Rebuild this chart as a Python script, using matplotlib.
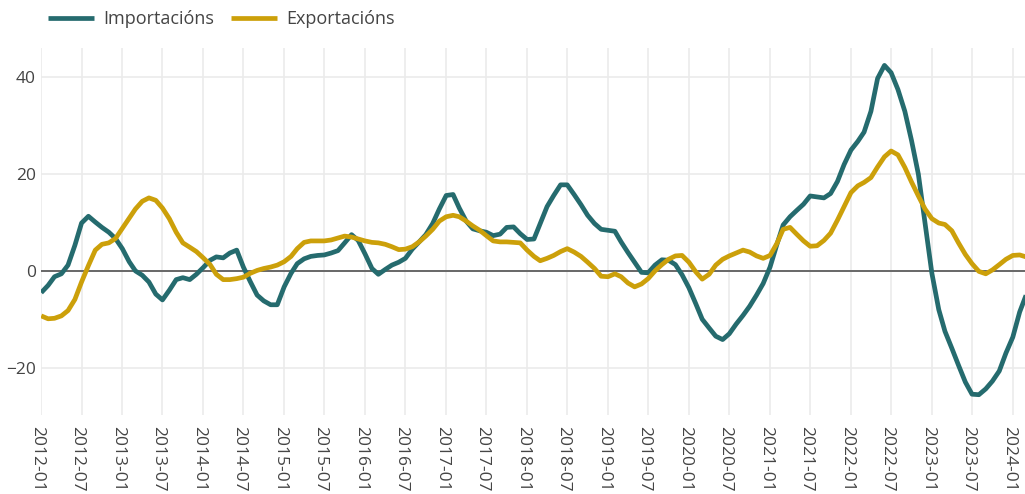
import matplotlib
matplotlib.use("Agg")
import matplotlib.pyplot as plt
import matplotlib.dates as mdates
import matplotlib.transforms as mtransforms
import pandas as pd
import numpy as np

plt.rcParams['font.family'] = ['Open Sans', 'DejaVu Sans']

# Monthly dates 2012-01 .. 2024-03
dates = pd.date_range("2012-01-01", "2024-03-01", freq="MS")

importacions = [
    -4.5, -3.0, -1.2, -0.6, 1.2, 5.3, 9.9, 11.3, 10.1, 9.0, 8.0, 6.7,
    4.6, 1.9, 0.0, -0.9, -2.3, -4.8, -6.0, -4.0, -1.8, -1.4, -1.8, -0.7,
    0.7, 2.2, 2.9, 2.7, 3.7, 4.3, 0.8, -2.2, -5.0, -6.2, -7.0, -7.0,
    -3.3, -0.5, 1.5, 2.5, 3.0, 3.2, 3.3, 3.7, 4.2, 5.8, 7.5, 6.3,
    3.5, 0.5, -0.7, 0.3, 1.2, 1.8, 2.6, 4.5, 6.0, 7.5, 9.8, 12.8,
    15.6, 15.8, 13.0, 10.3, 8.7, 8.3, 8.0, 7.3, 7.6, 9.0, 9.1, 7.7,
    6.5, 6.6, 9.8, 13.3, 15.6, 17.8, 17.8, 15.8, 13.7, 11.5, 9.8, 8.6,
    8.4, 8.2, 6.0, 3.8, 1.8, -0.3, -0.4, 1.2, 2.3, 2.2, 1.3, -0.8,
    -3.5, -6.8, -10.0, -11.8, -13.5, -14.2, -13.0, -11.0, -9.2, -7.3, -5.0, -2.6,
    0.8, 5.5, 9.5, 11.2, 12.5, 13.8, 15.5, 15.3, 15.1, 16.0, 18.5, 22.0,
    25.0, 26.8, 28.7, 33.0, 39.8, 42.5, 41.0, 37.5, 33.0, 27.0, 20.0, 10.0,
    -0.5, -8.0, -12.5, -16.0, -19.5, -23.0, -25.5, -25.6, -24.4, -22.8, -20.7, -17.0,
    -13.7, -8.5, -5.0,
]

exportacions = [
    -9.3, -9.9, -9.8, -9.3, -8.2, -5.9, -2.3, 1.1, 4.3, 5.5, 5.8, 6.7,
    8.8, 10.9, 12.8, 14.4, 15.1, 14.6, 13.0, 10.8, 8.0, 5.8, 4.9, 4.0,
    2.7, 1.3, -0.7, -1.8, -1.8, -1.6, -1.3, -0.5, 0.1, 0.5, 0.8, 1.2,
    1.9, 3.0, 4.6, 5.9, 6.2, 6.2, 6.2, 6.4, 6.8, 7.2, 7.0, 6.6,
    6.2, 5.9, 5.8, 5.5, 5.0, 4.4, 4.5, 5.0, 6.0, 7.2, 8.6, 10.3,
    11.2, 11.5, 11.2, 10.3, 9.3, 8.4, 7.3, 6.2, 6.0, 6.0, 5.9, 5.8,
    4.3, 3.0, 2.1, 2.6, 3.2, 4.0, 4.6, 3.9, 3.0, 1.8, 0.5, -1.1,
    -1.2, -0.6, -1.2, -2.5, -3.3, -2.7, -1.6, 0.0, 1.3, 2.4, 3.1, 3.2,
    1.8, -0.2, -1.7, -0.7, 1.2, 2.4, 3.1, 3.7, 4.3, 3.9, 3.1, 2.6,
    3.2, 5.7, 8.6, 9.0, 7.6, 6.2, 5.1, 5.2, 6.3, 7.8, 10.5, 13.3,
    16.2, 17.6, 18.3, 19.3, 21.5, 23.6, 24.8, 24.0, 21.4, 18.4, 15.5, 12.8,
    10.8, 9.9, 9.6, 8.3, 5.8, 3.4, 1.5, -0.1, -0.6, 0.2, 1.3, 2.4,
    3.2, 3.3, 2.9,
]

series_names = ["Importacións", "Exportacións"]
colors = ["#256b6e", "#cca00a"]

tick_dates = pd.date_range("2012-01-01", "2024-01-01", freq="6MS")
tick_labels = [d.strftime("%Y-%m") for d in tick_dates]
y_ticks = [-20, 0, 20, 40]

W, H = 1025, 494
fig = plt.figure(figsize=(W / 100, H / 100), dpi=100)
left_px, right_px, top_px, bottom_px = 41.2, 1026.1, 48, 415
ax = fig.add_axes([left_px / W, 1 - bottom_px / H,
                   (right_px - left_px) / W, (bottom_px - top_px) / H])

for name, vals, c in zip(series_names, [importacions, exportacions], colors):
    ax.plot(dates, vals, color=c, lw=3.4, label=name, solid_joinstyle='round',
            solid_capstyle='butt', zorder=3)

ax.axhline(0, color="#444444", lw=1.1, zorder=2)

ax.set_xlim(dates[0], dates[-1])
ax.set_ylim(-29.8, 46.1)

ax.set_xticks(tick_dates)
ax.set_xticklabels(tick_labels)
ax.set_yticks(y_ticks)
ax.set_yticklabels(["\u221220", "0", "20", "40"])

ax.grid(True, color="#ebebeb", lw=1.2, zorder=0)
ax.set_axisbelow(True)
for s in ax.spines.values():
    s.set_visible(False)

ax.tick_params(axis='both', length=0, labelsize=12.5, labelcolor="#444444")
ax.tick_params(axis='x', pad=8)
ax.tick_params(axis='y', pad=4)

offset = mtransforms.ScaledTranslation(-4 / 100, 0, fig.dpi_scale_trans)
for lab in ax.get_xticklabels():
    lab.set_rotation(-90)
    lab.set_ha('center')
    lab.set_va('top')
    lab.set_transform(lab.get_transform() + offset)

fig.legend(loc='center left', bbox_to_anchor=(48 / W, 1 - 19 / H),
           ncol=2, frameon=False, fontsize=13, labelcolor="#444444",
           handlelength=2.55, handletextpad=0.5, columnspacing=0.95,
           borderaxespad=0, borderpad=0)

fig.savefig("out.png", dpi=100)
